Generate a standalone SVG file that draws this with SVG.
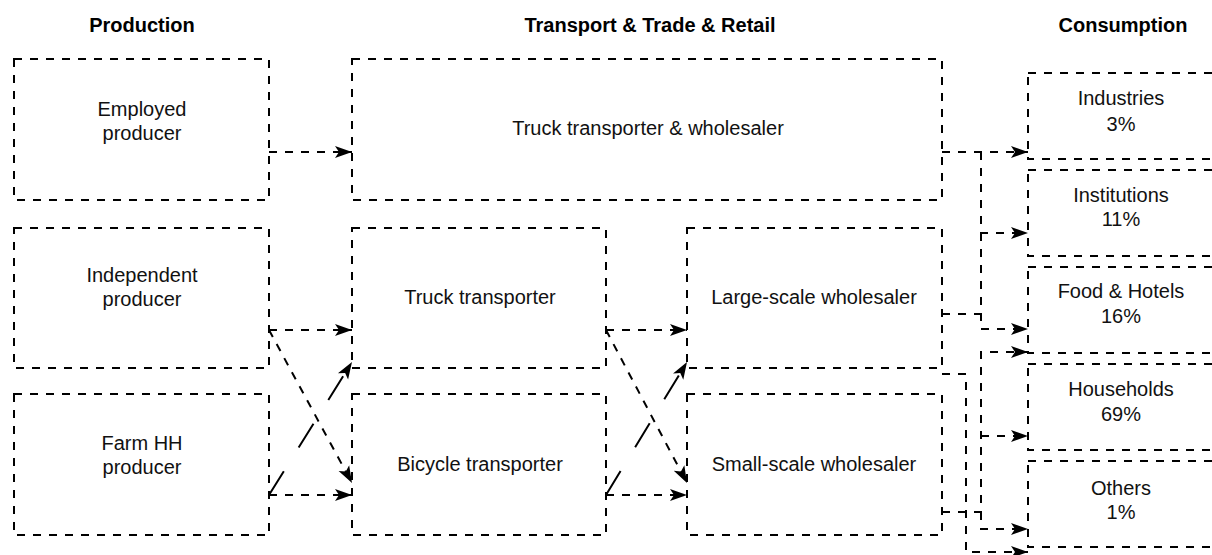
<svg xmlns="http://www.w3.org/2000/svg" width="1212" height="555" viewBox="0 0 1212 555">
<style>
.box{fill:#fff;stroke:#000;stroke-width:2;stroke-dasharray:8 8}
.t{font-family:"Liberation Sans",Arial,sans-serif;font-size:20px;fill:#111;text-anchor:middle}
.h{font-family:"Liberation Sans",Arial,sans-serif;font-size:20px;font-weight:bold;fill:#000;text-anchor:middle}
.e{fill:none;stroke:#000;stroke-width:2;stroke-dasharray:8 8}
.ld{fill:none;stroke:#000;stroke-width:2;stroke-dasharray:28 28}
</style>
<defs>
<marker id="arr" viewBox="0 0 18 14" refX="17" refY="7" markerWidth="18" markerHeight="14" orient="auto" markerUnits="userSpaceOnUse">
<path d="M0,1 L17,7 L0,13 L4,7 Z" fill="#000"/>
</marker>
</defs>
<rect width="1212" height="555" fill="#fff"/>
<g id="headers">
<text class="h" x="142" y="32">Production</text>
<text class="h" x="650" y="32">Transport &amp; Trade &amp; Retail</text>
<text class="h" x="1123" y="32">Consumption</text>
</g>
<g id="employed">
<rect class="box" x="14" y="59" width="255" height="141"/>
<text class="t" x="142" y="116">Employed</text>
<text class="t" x="142" y="140">producer</text>
</g>
<g id="independent">
<rect class="box" x="14" y="228" width="255" height="140"/>
<text class="t" x="142" y="282">Independent</text>
<text class="t" x="142" y="306">producer</text>
</g>
<g id="farmhh">
<rect class="box" x="14" y="394" width="255" height="141"/>
<text class="t" x="142" y="450">Farm HH</text>
<text class="t" x="142" y="474">producer</text>
</g>
<g id="truckwholesaler">
<rect class="box" x="352" y="59" width="590" height="141"/>
<text class="t" x="648" y="135">Truck transporter &amp; wholesaler</text>
</g>
<g id="truck">
<rect class="box" x="352" y="228" width="254" height="140"/>
<text class="t" x="480" y="304">Truck transporter</text>
</g>
<g id="bicycle">
<rect class="box" x="352" y="394" width="254" height="141"/>
<text class="t" x="480" y="471">Bicycle transporter</text>
</g>
<g id="largescale">
<rect class="box" x="687" y="228" width="255" height="140"/>
<text class="t" x="814" y="304">Large-scale wholesaler</text>
</g>
<g id="smallscale">
<rect class="box" x="687" y="394" width="255" height="141"/>
<text class="t" x="814" y="471">Small-scale wholesaler</text>
</g>
<g id="industries">
<rect class="box" x="1028" y="73" width="192" height="86"/>
<text class="t" x="1121" y="105">Industries</text>
<text class="t" x="1121" y="131">3%</text>
</g>
<g id="institutions">
<rect class="box" x="1028" y="170" width="192" height="86"/>
<text class="t" x="1121" y="202">Institutions</text>
<text class="t" x="1121" y="226">11%</text>
</g>
<g id="foodhotels">
<rect class="box" x="1028" y="267" width="192" height="86"/>
<text class="t" x="1121" y="298">Food &amp; Hotels</text>
<text class="t" x="1121" y="323">16%</text>
</g>
<g id="households">
<rect class="box" x="1028" y="364" width="192" height="86"/>
<text class="t" x="1121" y="396">Households</text>
<text class="t" x="1121" y="421">69%</text>
</g>
<g id="others">
<rect class="box" x="1028" y="461" width="192" height="86"/>
<text class="t" x="1121" y="495">Others</text>
<text class="t" x="1121" y="519">1%</text>
</g>
<g id="connectors">
<path class="e" d="M269,152 H352" marker-end="url(#arr)"/>
<path class="e" d="M269,330 H352" marker-end="url(#arr)"/>
<path class="e" d="M269,330 L352,483" marker-end="url(#arr)"/>
<path class="e" d="M269,495 H352" marker-end="url(#arr)"/>
<path class="ld" d="M269,495 L352,362" marker-end="url(#arr)"/>
<path class="e" d="M606,330 H687" marker-end="url(#arr)"/>
<path class="e" d="M606,330 L687,483" marker-end="url(#arr)"/>
<path class="e" d="M606,495 H687" marker-end="url(#arr)"/>
<path class="ld" d="M606,495 L687,362" marker-end="url(#arr)"/>
<path class="e" d="M942,152 H1028" marker-end="url(#arr)"/>
<path class="e" d="M981,152 V233 H1028" marker-end="url(#arr)"/>
<path class="e" d="M981,233 V329 H1028" marker-end="url(#arr)"/>
<path class="e" d="M942,314 H981"/>
<path class="e" d="M942,512 H981 V352 H1028" marker-end="url(#arr)"/>
<path class="e" d="M981,436 H1028" marker-end="url(#arr)"/>
<path class="e" d="M981,512 V529 H1028" marker-end="url(#arr)"/>
<path class="e" d="M942,374 H966 V552 H1028" marker-end="url(#arr)"/>
</g>
</svg>
